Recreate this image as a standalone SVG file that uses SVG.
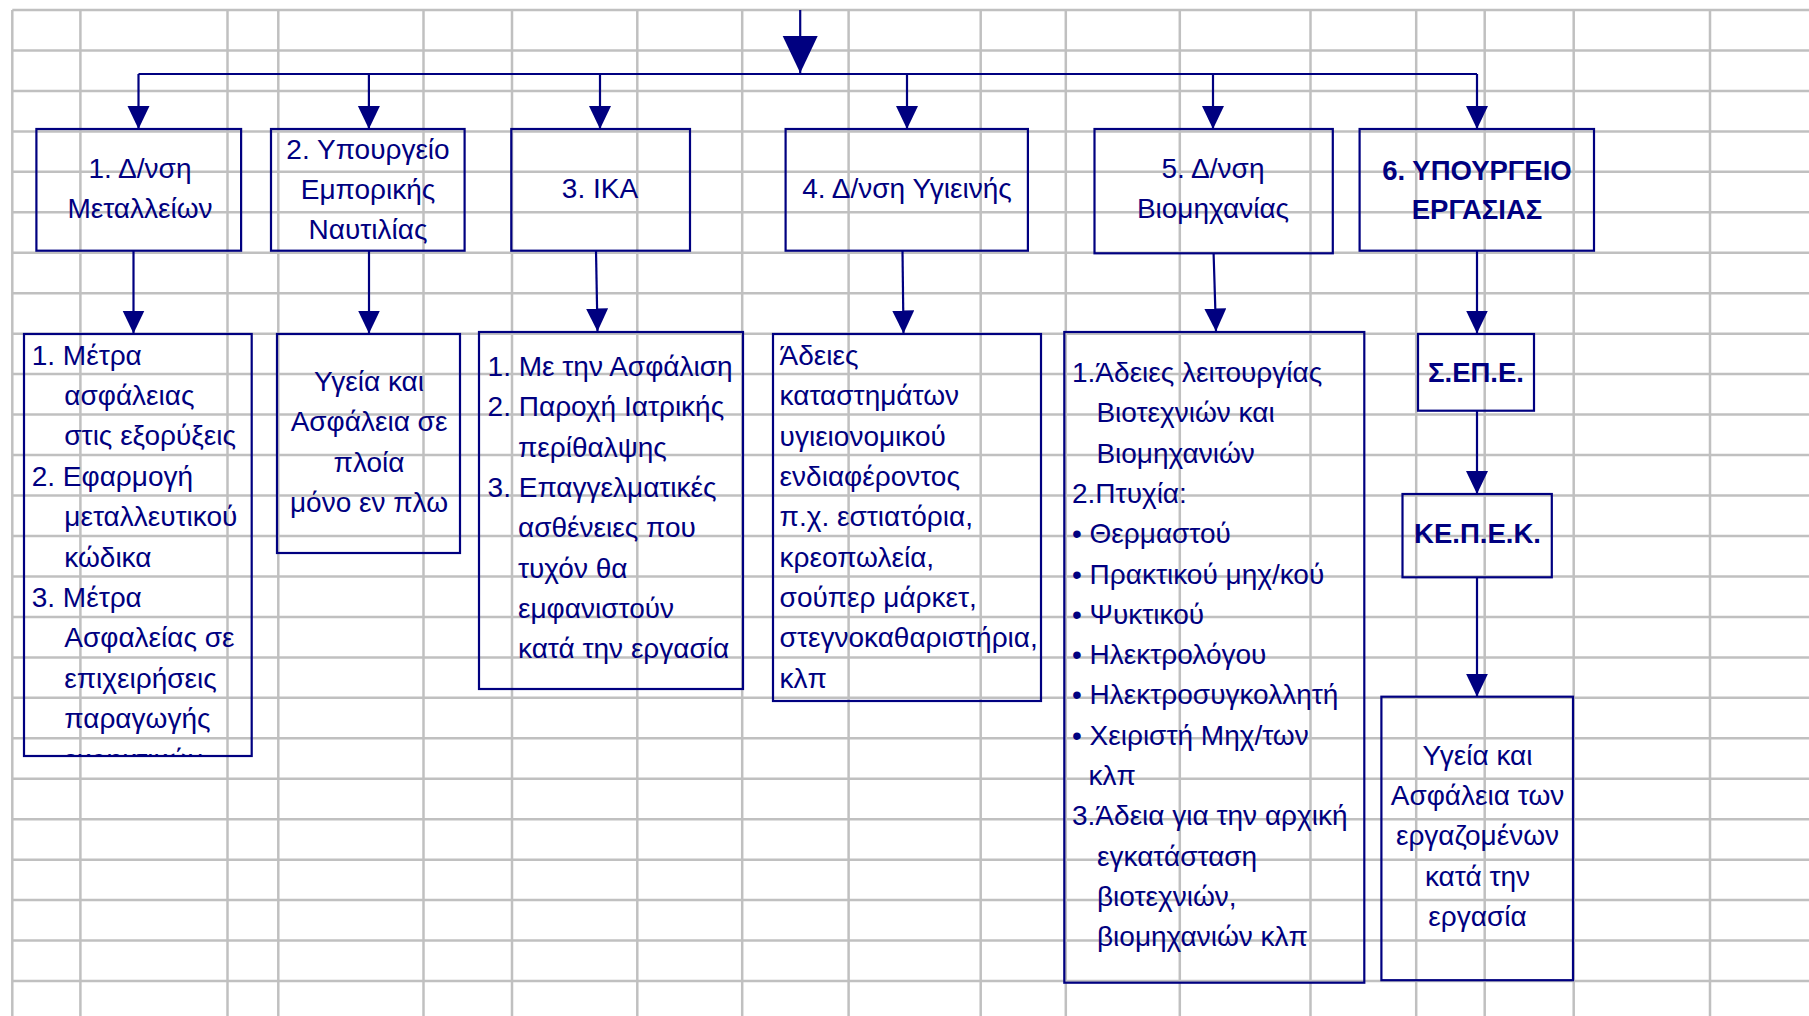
<svg xmlns="http://www.w3.org/2000/svg" width="1809" height="1016" viewBox="0 0 1809 1016">
<style>
.grid line{stroke:#c0c0c0;stroke-width:2.5}
.box{fill:none;stroke:#000080;stroke-width:2.2}
.conn{stroke:#000080;stroke-width:2.2;fill:none}
text{font-family:"Liberation Sans",Arial,sans-serif;fill:#000080}
.h{font-size:28px;text-anchor:middle}
.c{font-size:28px}
.cm{font-size:28px;text-anchor:middle}
.b{font-size:27.5px;font-weight:bold;text-anchor:middle}
</style>
<defs>
<marker id="ah" markerUnits="userSpaceOnUse" markerWidth="24" markerHeight="24" refX="23" refY="11" orient="auto" viewBox="0 0 24 24"><path d="M0,0 L23,11 L0,22 z" fill="#000080"/></marker>
<marker id="ahBig" markerUnits="userSpaceOnUse" markerWidth="38" markerHeight="36" refX="37" refY="17.5" orient="auto" viewBox="0 0 38 36"><path d="M0,0 L37,17.5 L0,35 z" fill="#000080"/></marker>
<clipPath id="clipC1"><rect x="24" y="334" width="228" height="421"/></clipPath>
</defs>
<rect width="1809" height="1016" fill="#ffffff"/>
<g class="grid">
<line x1="12.3" y1="10" x2="12.3" y2="1016"/>
<line x1="80.4" y1="10" x2="80.4" y2="1016"/>
<line x1="227.5" y1="10" x2="227.5" y2="1016"/>
<line x1="278.3" y1="10" x2="278.3" y2="1016"/>
<line x1="423.5" y1="10" x2="423.5" y2="1016"/>
<line x1="512" y1="10" x2="512" y2="1016"/>
<line x1="637.3" y1="10" x2="637.3" y2="1016"/>
<line x1="742.2" y1="10" x2="742.2" y2="1016"/>
<line x1="848.6" y1="10" x2="848.6" y2="1016"/>
<line x1="980.7" y1="10" x2="980.7" y2="1016"/>
<line x1="1065.8" y1="10" x2="1065.8" y2="1016"/>
<line x1="1179.8" y1="10" x2="1179.8" y2="1016"/>
<line x1="1310.5" y1="10" x2="1310.5" y2="1016"/>
<line x1="1416.2" y1="10" x2="1416.2" y2="1016"/>
<line x1="1484.7" y1="10" x2="1484.7" y2="1016"/>
<line x1="1573.7" y1="10" x2="1573.7" y2="1016"/>
<line x1="1710" y1="10" x2="1710" y2="1016"/>
<line x1="12.3" y1="10" x2="1809" y2="10"/>
<line x1="12.3" y1="50.5" x2="1809" y2="50.5"/>
<line x1="12.3" y1="90.9" x2="1809" y2="90.9"/>
<line x1="12.3" y1="131.4" x2="1809" y2="131.4"/>
<line x1="12.3" y1="171.8" x2="1809" y2="171.8"/>
<line x1="12.3" y1="212.3" x2="1809" y2="212.3"/>
<line x1="12.3" y1="252.8" x2="1809" y2="252.8"/>
<line x1="12.3" y1="293.2" x2="1809" y2="293.2"/>
<line x1="12.3" y1="333.7" x2="1809" y2="333.7"/>
<line x1="12.3" y1="374.1" x2="1809" y2="374.1"/>
<line x1="12.3" y1="414.6" x2="1809" y2="414.6"/>
<line x1="12.3" y1="455.1" x2="1809" y2="455.1"/>
<line x1="12.3" y1="495.5" x2="1809" y2="495.5"/>
<line x1="12.3" y1="536" x2="1809" y2="536"/>
<line x1="12.3" y1="576.4" x2="1809" y2="576.4"/>
<line x1="12.3" y1="616.9" x2="1809" y2="616.9"/>
<line x1="12.3" y1="657.4" x2="1809" y2="657.4"/>
<line x1="12.3" y1="697.8" x2="1809" y2="697.8"/>
<line x1="12.3" y1="738.3" x2="1809" y2="738.3"/>
<line x1="12.3" y1="778.7" x2="1809" y2="778.7"/>
<line x1="12.3" y1="819.2" x2="1809" y2="819.2"/>
<line x1="12.3" y1="859.7" x2="1809" y2="859.7"/>
<line x1="12.3" y1="900.1" x2="1809" y2="900.1"/>
<line x1="12.3" y1="940.6" x2="1809" y2="940.6"/>
<line x1="12.3" y1="981" x2="1809" y2="981"/>
</g>
<g id="connectors">
<line class="conn" x1="800.2" y1="10" x2="800.2" y2="73" marker-end="url(#ahBig)"/>
<line class="conn" x1="138.5" y1="74" x2="1477" y2="74"/>
<line class="conn" x1="138.5" y1="74" x2="138.5" y2="129" marker-end="url(#ah)"/>
<line class="conn" x1="368.9" y1="74" x2="368.9" y2="129" marker-end="url(#ah)"/>
<line class="conn" x1="600" y1="74" x2="600" y2="129" marker-end="url(#ah)"/>
<line class="conn" x1="907" y1="74" x2="907" y2="129" marker-end="url(#ah)"/>
<line class="conn" x1="1213" y1="74" x2="1213" y2="129" marker-end="url(#ah)"/>
<line class="conn" x1="1477" y1="74" x2="1477" y2="129" marker-end="url(#ah)"/>
<line class="conn" x1="133.5" y1="250.7" x2="133.5" y2="333.5" marker-end="url(#ah)"/>
<line class="conn" x1="369" y1="250.7" x2="369" y2="333.5" marker-end="url(#ah)"/>
<line class="conn" x1="596" y1="250.7" x2="597.5" y2="331.5" marker-end="url(#ah)"/>
<line class="conn" x1="902.5" y1="250.7" x2="903.5" y2="333.5" marker-end="url(#ah)"/>
<line class="conn" x1="1213.6" y1="253.3" x2="1216" y2="331.5" marker-end="url(#ah)"/>
<line class="conn" x1="1477" y1="250.7" x2="1477" y2="333.5" marker-end="url(#ah)"/>
<line class="conn" x1="1477" y1="410.7" x2="1477" y2="494" marker-end="url(#ah)"/>
<line class="conn" x1="1477" y1="577.3" x2="1477" y2="696.7" marker-end="url(#ah)"/>
</g>
<g id="n1">
<rect class="box" x="36.4" y="129" width="204.7" height="121.7"/>
<text class="h" x="140" y="178.3">1. Δ/νση</text>
<text class="h" x="140" y="218.3">Μεταλλείων</text>
</g>
<g id="n2">
<rect class="box" x="271" y="129" width="193.6" height="121.7"/>
<text class="h" x="368" y="159.3">2. Υπουργείο</text>
<text class="h" x="368" y="199.3">Εμπορικής</text>
<text class="h" x="368" y="239.3">Ναυτιλίας</text>
</g>
<g id="n3">
<rect class="box" x="511.3" y="129" width="178.7" height="121.7"/>
<text class="h" x="600" y="198.3">3. ΙΚΑ</text>
</g>
<g id="n4">
<rect class="box" x="785.6" y="129" width="242.3" height="121.7"/>
<text class="h" x="907" y="198.3">4. Δ/νση Υγιεινής</text>
</g>
<g id="n5">
<rect class="box" x="1094.5" y="129" width="238.3" height="124.3"/>
<text class="h" x="1213" y="178.3">5. Δ/νση</text>
<text class="h" x="1213" y="218.3">Βιομηχανίας</text>
</g>
<g id="n6">
<rect class="box" x="1359.6" y="129" width="234.4" height="121.7"/>
<text class="b" x="1477" y="180">6. ΥΠΟΥΡΓΕΙΟ</text>
<text class="b" x="1477" y="219.3">ΕΡΓΑΣΙΑΣ</text>
</g>
<g id="c1">
<rect class="box" x="24" y="334" width="227.7" height="422"/>
<text class="c" x="31.7" y="364.5">1. Μέτρα</text>
<text class="c" x="64.3" y="404.9">ασφάλειας</text>
<text class="c" x="64.3" y="445.3">στις εξορύξεις</text>
<text class="c" x="31.7" y="485.7">2. Εφαρμογή</text>
<text class="c" x="64.3" y="526.1">μεταλλευτικού</text>
<text class="c" x="64.3" y="566.5">κώδικα</text>
<text class="c" x="31.7" y="606.9">3. Μέτρα</text>
<text class="c" x="64.3" y="647.3">Ασφαλείας σε</text>
<text class="c" x="64.3" y="687.7">επιχειρήσεις</text>
<text class="c" x="64.3" y="728.1">παραγωγής</text>
<text class="c" x="64.3" y="768.5" clip-path="url(#clipC1)">εκρηκτικών</text>
</g>
<g id="c2">
<rect class="box" x="277" y="334" width="183" height="219"/>
<text class="cm" x="369" y="390.7">Υγεία και</text>
<text class="cm" x="369" y="431.1">Ασφάλεια σε</text>
<text class="cm" x="369" y="471.5">πλοία</text>
<text class="cm" x="369" y="511.9">μόνο εν πλω</text>
</g>
<g id="c3">
<rect class="box" x="479" y="332" width="264" height="357"/>
<text class="c" x="487.6" y="376">1. Με την Ασφάλιση</text>
<text class="c" x="487.6" y="416.3">2. Παροχή Ιατρικής</text>
<text class="c" x="518" y="456.6">περίθαλψης</text>
<text class="c" x="487.6" y="496.9">3. Επαγγελματικές</text>
<text class="c" x="518" y="537.2">ασθένειες που</text>
<text class="c" x="518" y="577.5">τυχόν θα</text>
<text class="c" x="518" y="617.8">εμφανιστούν</text>
<text class="c" x="518" y="658.1">κατά την εργασία</text>
</g>
<g id="c4">
<rect class="box" x="773" y="334" width="268" height="367"/>
<text class="c" x="779.6" y="365">Άδειες</text>
<text class="c" x="779.6" y="405.4">καταστημάτων</text>
<text class="c" x="779.6" y="445.7">υγιειονομικού</text>
<text class="c" x="779.6" y="486">ενδιαφέροντος</text>
<text class="c" x="779.6" y="526.4">π.χ. εστιατόρια,</text>
<text class="c" x="779.6" y="566.8">κρεοπωλεία,</text>
<text class="c" x="779.6" y="607.1">σούπερ μάρκετ,</text>
<text class="c" x="779.6" y="647.4">στεγνοκαθαριστήρια,</text>
<text class="c" x="779.6" y="687.8">κλπ</text>
</g>
<g id="c5">
<rect class="box" x="1064.3" y="332" width="300" height="650.7"/>
<text class="c" x="1072" y="382">1.Άδειες λειτουργίας</text>
<text class="c" x="1096.4" y="422.3">Βιοτεχνιών και</text>
<text class="c" x="1096.4" y="462.6">Βιομηχανιών</text>
<text class="c" x="1072" y="502.9">2.Πτυχία:</text>
<text class="c" x="1072" y="543.2">• Θερμαστού</text>
<text class="c" x="1072" y="583.5">• Πρακτικού μηχ/κού</text>
<text class="c" x="1072" y="623.8">• Ψυκτικού</text>
<text class="c" x="1072" y="664.1">• Ηλεκτρολόγου</text>
<text class="c" x="1072" y="704.4">• Ηλεκτροσυγκολλητή</text>
<text class="c" x="1072" y="744.7">• Χειριστή Μηχ/των</text>
<text class="c" x="1088.6" y="785">κλπ</text>
<text class="c" x="1072" y="825.3">3.Άδεια για την αρχική</text>
<text class="c" x="1097" y="865.6">εγκατάσταση</text>
<text class="c" x="1097" y="905.9">βιοτεχνιών,</text>
<text class="c" x="1097" y="946.2">βιομηχανιών κλπ</text>
</g>
<g id="sepe">
<rect class="box" x="1418" y="334" width="116" height="76.7"/>
<text class="b" x="1476" y="381.7">Σ.ΕΠ.Ε.</text>
</g>
<g id="kepek">
<rect class="box" x="1402.5" y="494" width="149.3" height="83.3"/>
<text class="b" x="1477.5" y="543.3">ΚΕ.Π.Ε.Κ.</text>
</g>
<g id="c6">
<rect class="box" x="1381.4" y="696.7" width="191.6" height="283.5"/>
<text class="cm" x="1477.5" y="764.5">Υγεία και</text>
<text class="cm" x="1477.5" y="805">Ασφάλεια των</text>
<text class="cm" x="1477.5" y="845.3">εργαζομένων</text>
<text class="cm" x="1477.5" y="885.7">κατά την</text>
<text class="cm" x="1477.5" y="926">εργασία</text>
</g>
</svg>
